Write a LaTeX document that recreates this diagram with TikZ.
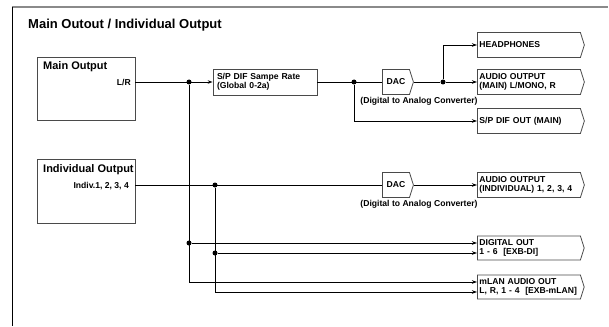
\documentclass[tikz,border=0pt]{standalone}
\usepackage{fontspec}
\setmainfont{Liberation Sans}
\usetikzlibrary{arrows.meta, shapes.symbols, calc}
\definecolor{FrameGray}{HTML}{8A8A8A}
\definecolor{BoxGray}{HTML}{4A4A4A}
\newcommand{\TitleFont}{\fontsize{13}{15}\selectfont\bfseries}
\newcommand{\HeadFont}{\fontsize{11}{13}\selectfont\bfseries}
\newcommand{\SmallFont}{\fontsize{8.6}{9.4}\selectfont\bfseries}
\tikzset{
    wire/.style={black, line width=0.8pt},
    feed/.style={wire, -{Stealth[length=5pt, width=3.5pt]}},
    joint/.style={circle, fill=black, inner sep=0pt, minimum size=5pt},
    block/.style={draw=BoxGray, line width=0.8pt, rectangle, inner sep=0pt},
    rate/.style={draw=BoxGray, line width=0.8pt, rectangle, font=\SmallFont,
        align=left, text width=96pt, inner xsep=4pt, minimum height=26pt},
    dac/.style={draw=BoxGray, line width=0.8pt, signal, signal to=east,
        signal pointer angle=145, font=\SmallFont, inner xsep=2pt,
        minimum width=31pt, minimum height=25pt, anchor=west},
    outbox/.style={draw=BoxGray, line width=0.8pt, signal, signal to=east,
        signal pointer angle=145, font=\SmallFont, align=left,
        text width=99pt, inner xsep=2pt, minimum height=25pt, anchor=west},
    note/.style={font=\SmallFont, inner sep=0pt}
}
\begin{document}
\begin{tikzpicture}[x=1pt, y=-1pt]
\useasboundingbox (0,0) rectangle (609,326);

% frame
\draw[FrameGray, line width=2pt] (12,7) -- (608,7);
\draw[black, line width=1pt] (12,7) -- (12,326);
\node[font=\TitleFont, inner sep=0pt, anchor=base west] (title) at (28,29) {Main Outout / Individual Output};

% sources
\node[block, minimum width=98pt, minimum height=63pt] (mainout) at (86,88.5) {};
\node[font=\HeadFont, inner sep=0pt, anchor=base west] (mainhead) at (43,70) {Main Output};
\node[note, anchor=base east] (lr) at (131,85) {L/R};

\node[block, minimum width=98pt, minimum height=64pt] (indout) at (86,191) {};
\node[font=\HeadFont, inner sep=0pt, anchor=base west] (indhead) at (43,172) {Individual Output};
\node[note, anchor=base east] (indiv) at (129,188) {Indiv.1, 2, 3, 4};

% main path
\node[rate] (spdif) at (265,82) {S/P DIF Sampe Rate\\(Global 0-2a)};
\node[joint] (j1) at (189,82) {};
\node[joint] (j2) at (354,82) {};
\node[dac] (dac1) at (382,82) {DAC};
\node[note] (conv1) at (419,101) {(Digital to Analog Converter)};
\node[joint] (j3) at (443,82) {};

\node[outbox] (phones) at (477,45) {HEADPHONES};
\node[outbox] (aomain) at (477,82) {AUDIO OUTPUT\\(MAIN) L/MONO, R};
\node[outbox] (spout) at (477,121) {S/P DIF OUT (MAIN)};

% individual path
\node[joint] (j4) at (215,185) {};
\node[dac] (dac2) at (382,185) {DAC};
\node[note] (conv2) at (419,204) {(Digital to Analog Converter)};
\node[outbox] (aoind) at (477,185) {AUDIO OUTPUT\\(INDIVIDUAL) 1, 2, 3, 4};

\node[joint] (j5) at (189,243) {};
\node[joint] (j6) at (215,253) {};
\node[outbox, minimum height=24pt] (digout) at (477,248) {DIGITAL OUT\\1 - 6~~[EXB-DI]};
\node[outbox, minimum height=24pt] (mlan) at (477,287) {mLAN AUDIO OUT\\L, R, 1 - 4~~[EXB-mLAN]};

% connectors
\draw[feed] (mainout.east |- j1) -- (spdif.west);
\draw[wire] (spdif.east) -- (dac1.west);
\draw[wire] (dac1.east) -- (j3);
\draw[feed] (j3) -- (aomain.west);
\draw[feed] (j3) |- (phones.west);
\draw[feed] (j2) |- (spout.west);

\draw[wire] (indout.east |- j4) -- (dac2.west);
\draw[feed] (dac2.east) -- (aoind.west);

\draw[feed] (j1) |- ([yshift=5pt]mlan.west);
\draw[feed] (j4) |- ([yshift=-5pt]mlan.west);
\draw[feed] (j5) -- (j5 -| digout.west);
\draw[feed] (j6) -- (j6 -| digout.west);
\end{tikzpicture}
\end{document}
